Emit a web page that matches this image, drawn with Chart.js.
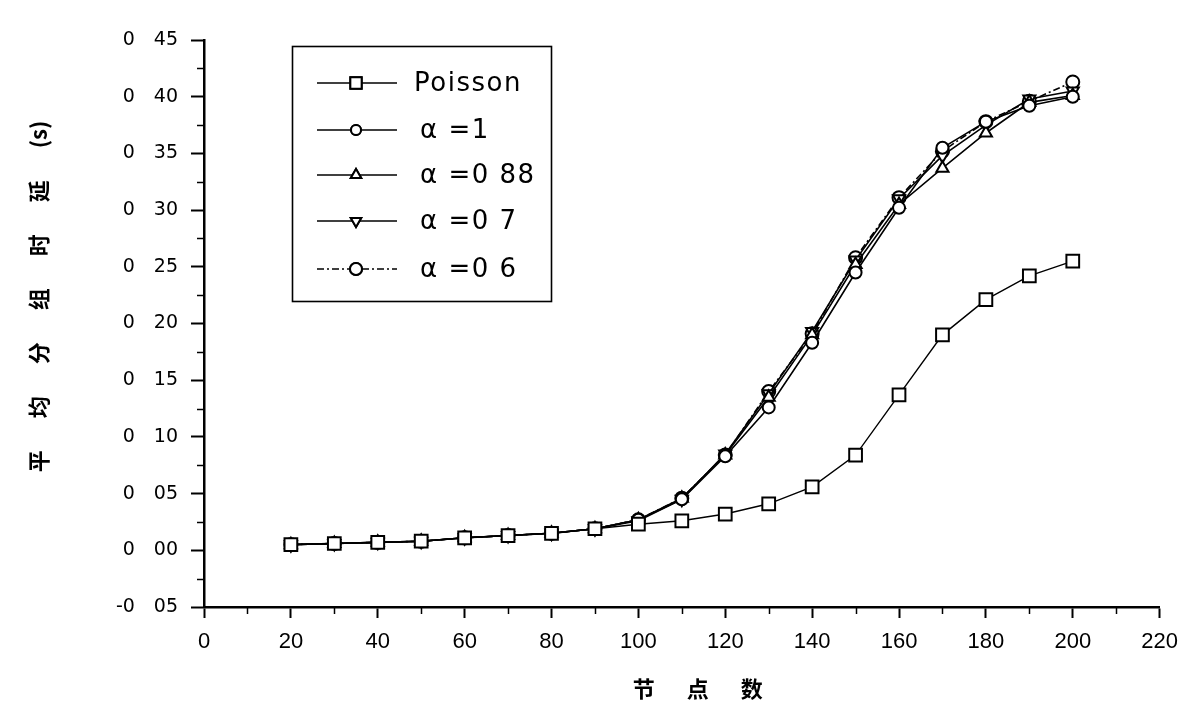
<!DOCTYPE html>
<html>
<head>
<meta charset="utf-8">
<script src="https://cdn.jsdelivr.net/npm/chart.js@4/dist/chart.umd.min.js"></script>
<style>
  html, body { margin: 0; padding: 0; background: #ffffff; }
  #wrap { width: 1189px; height: 705px; }
</style>
</head>
<body>
<div id="wrap"><canvas id="c" width="1189" height="705"></canvas></div>
<script>
// ---- data ----
const xNodes = [20, 30, 40, 50, 60, 70, 80, 90, 100, 110, 120, 130, 140, 150, 160, 170, 180, 190, 200];
const poisson  = [0.005, 0.006, 0.007, 0.008, 0.011, 0.013, 0.015, 0.019, 0.023, 0.026, 0.032, 0.041, 0.056, 0.084, 0.137, 0.190, 0.221, 0.242, 0.255];
const alpha1   = [0.005, 0.006, 0.007, 0.008, 0.011, 0.013, 0.015, 0.019, 0.027, 0.045, 0.083, 0.126, 0.183, 0.245, 0.302, 0.355, 0.378, 0.392, 0.400];
const alpha088 = [0.005, 0.006, 0.007, 0.008, 0.011, 0.013, 0.015, 0.019, 0.027, 0.046, 0.084, 0.135, 0.190, 0.252, 0.305, 0.337, 0.368, 0.395, 0.401];
const alpha07  = [0.005, 0.006, 0.007, 0.008, 0.011, 0.013, 0.015, 0.019, 0.026, 0.045, 0.085, 0.138, 0.193, 0.256, 0.310, 0.348, 0.375, 0.398, 0.405];
const alpha06  = [0.005, 0.006, 0.007, 0.008, 0.011, 0.013, 0.015, 0.019, 0.027, 0.046, 0.084, 0.140, 0.191, 0.258, 0.311, 0.352, 0.378, 0.396, 0.413];

const legendLabels = ['Poisson', 'α =1', 'α =0 88', 'α =0 7', 'α =0 6'];
const xTickLabels = ['0', '20', '40', '60', '80', '100', '120', '140', '160', '180', '200', '220'];
const yTickLabels = ['-0\u200305', '0\u200300', '0\u200305', '0\u200310', '0\u200315', '0\u200320', '0\u200325', '0\u200330', '0\u200335', '0\u200340', '0\u200345'];
const yTitleChars = ['平', '均', '分', '组', '时', '延', '(s)'];
const xTitleChars = ['节', '点', '数'];

// ---- build ----
const G = '\u3000  ';
const yTitle = '\u3000\u3000  ' + yTitleChars.join(G);
const xTitle = '\u3000  ' + xTitleChars.join(G);

function pts(arr) { return xNodes.map((x, i) => ({ x: x, y: arr[i] })); }

const styles = [
  { pointStyle: 'rect',     radius: 9,   rotation: 0,   dash: [],           legR: 8 },
  { pointStyle: 'circle',   radius: 6,   rotation: 0,   dash: [],           legR: 5 },
  { pointStyle: 'triangle', radius: 7,   rotation: 0,   dash: [],           legR: 6 },
  { pointStyle: 'triangle', radius: 7,   rotation: 180, dash: [],           legR: 6 },
  { pointStyle: 'circle',   radius: 6.5, rotation: 0,   dash: [7, 3, 2, 3], legR: 6 }
];
const series = [poisson, alpha1, alpha088, alpha07, alpha06];

const datasets = series.map((s, i) => ({
  label: legendLabels[i],
  data: pts(s),
  borderColor: '#000',
  borderWidth: i === 0 ? 1.4 : 1.6,
  borderDash: styles[i].dash,
  backgroundColor: '#fff',
  pointBackgroundColor: '#fff',
  pointBorderColor: '#000',
  pointBorderWidth: 2,
  pointStyle: styles[i].pointStyle,
  pointRadius: styles[i].radius,
  pointRotation: styles[i].rotation,
  tension: 0,
  fill: false
}));

const minorTicks = {
  id: 'minorTicks',
  afterDraw(chart) {
    const ctx = chart.ctx;
    const xs = chart.scales.x, ys = chart.scales.y;
    ctx.save();
    ctx.strokeStyle = '#000';
    ctx.lineWidth = 1.5;
    for (let v = -0.025; v < 0.45; v += 0.05) {
      const py = Math.round(ys.getPixelForValue(v)) + 0.5;
      ctx.beginPath();
      ctx.moveTo(xs.left - 7, py);
      ctx.lineTo(xs.left, py);
      ctx.stroke();
    }
    for (let v = 10; v < 220; v += 20) {
      const px = Math.round(xs.getPixelForValue(v)) + 0.5;
      ctx.beginPath();
      ctx.moveTo(px, ys.bottom);
      ctx.lineTo(px, ys.bottom + 7);
      ctx.stroke();
    }
    ctx.restore();
  }
};

const boxLegend = {
  id: 'boxLegend',
  afterDraw(chart) {
    const ctx = chart.ctx;
    ctx.save();
    ctx.strokeStyle = '#000';
    ctx.lineWidth = 1.6;
    ctx.strokeRect(292.5, 46.5, 259, 255);
    const rows = [83, 130, 175, 221, 269];
    const textX = [414, 420, 420, 420, 420];
    for (let i = 0; i < rows.length; i++) {
      const y = rows[i];
      ctx.setLineDash(styles[i].dash);
      ctx.lineWidth = 1.6;
      ctx.beginPath();
      ctx.moveTo(317, y);
      ctx.lineTo(397, y);
      ctx.stroke();
      ctx.setLineDash([]);
      ctx.lineWidth = 2;
      ctx.fillStyle = '#fff';
      const ds = chart.data.datasets[i];
      Chart.helpers.drawPoint(ctx, {
        pointStyle: ds.pointStyle,
        radius: styles[i].legR,
        rotation: ds.pointRotation,
        borderWidth: 2
      }, 356, y);
      ctx.fill();
      ctx.stroke();
      ctx.fillStyle = '#000';
      ctx.font = '26px "DejaVu Sans", sans-serif';
      try { ctx.letterSpacing = '1.5px'; } catch (e) {}
      ctx.textBaseline = 'middle';
      ctx.textAlign = 'left';
      ctx.fillText(legendLabels[i], textX[i], y + 1);
      try { ctx.letterSpacing = '0px'; } catch (e) {}
    }
    ctx.restore();
  }
};

new Chart(document.getElementById('c'), {
  type: 'line',
  data: { datasets: datasets },
  options: {
    responsive: false,
    animation: false,
    devicePixelRatio: 1,
    layout: { padding: { top: 40, right: 23, left: 0, bottom: 0 } },
    plugins: { legend: { display: false }, tooltip: { enabled: false } },
    scales: {
      x: {
        type: 'linear',
        min: 0, max: 220,
        afterFit(s) { s.height = 98; },
        ticks: {
          stepSize: 20,
          color: '#000',
          padding: 11,
          maxRotation: 0,
          font: { family: '"Liberation Sans", Arial, sans-serif', size: 22 },
          callback: (v, i) => xTickLabels[i]
        },
        grid: { display: true, drawOnChartArea: false, drawTicks: true, tickLength: 11, tickWidth: 2, tickColor: '#000', color: '#000' },
        border: { display: true, color: '#000', width: 2.5 },
        title: {
          display: true,
          text: xTitle,
          color: '#000',
          padding: { top: 0, bottom: 3 },
          font: { family: '"Noto Sans CJK SC", sans-serif', size: 22, weight: 'bold', lineHeight: 1.2 }
        }
      },
      y: {
        type: 'linear',
        min: -0.05, max: 0.45,
        afterFit(s) { s.width = 204; },
        ticks: {
          stepSize: 0.05,
          color: '#000',
          padding: 13,
          font: { family: '"DejaVu Sans", sans-serif', size: 19 },
          callback: (v, i) => yTickLabels[i]
        },
        grid: { display: true, drawOnChartArea: false, drawTicks: true, tickLength: 13, tickWidth: 2, tickColor: '#000', color: '#000' },
        border: { display: true, color: '#000', width: 2.5 },
        title: {
          display: true,
          text: yTitle,
          color: '#000',
          padding: { top: 25, bottom: 0 },
          font: { family: '"Noto Sans CJK SC", sans-serif', size: 22, weight: 'bold', lineHeight: 1.2 }
        }
      }
    }
  },
  plugins: [minorTicks, boxLegend]
});
</script>
</body>
</html>
